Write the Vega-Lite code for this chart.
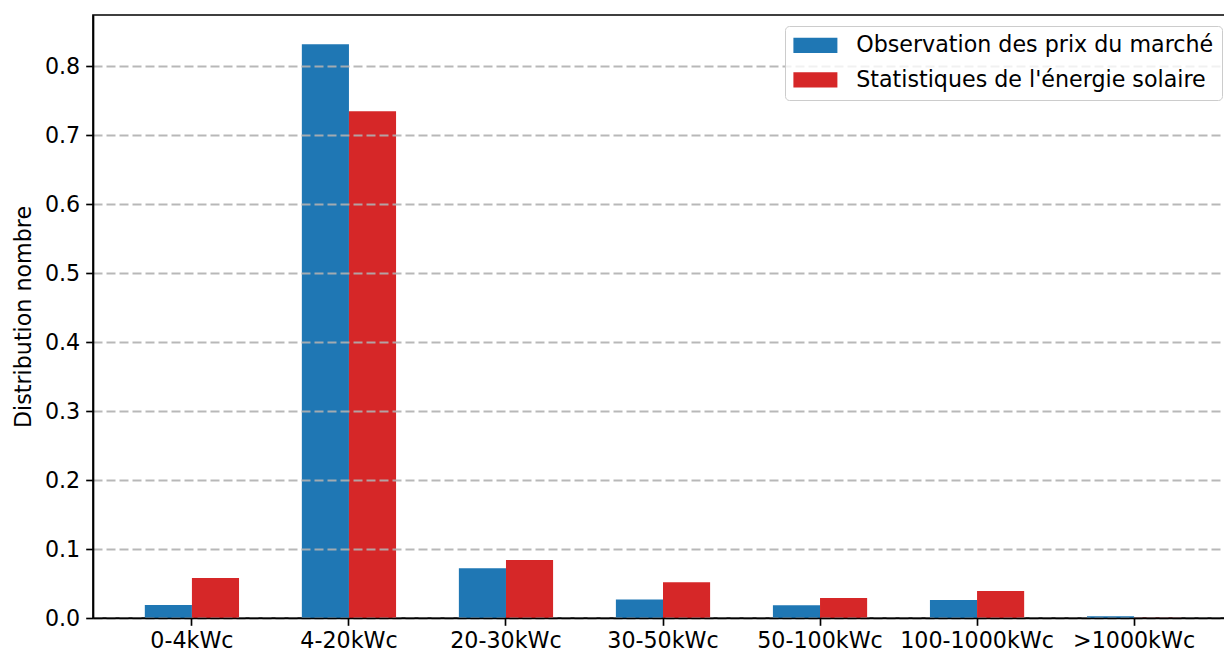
{
  "$schema": "https://vega.github.io/schema/vega-lite/v6.json",
  "width": 1140,
  "height": 603,
  "autosize": {"type": "none"},
  "padding": {"left": 93, "top": 15, "right": -9, "bottom": 35},
  "background": "white",
  "config": {
    "font": "DejaVu Sans",
    "view": {"stroke": "black", "strokeWidth": 1.67},
    "axis": {
      "domainColor": "black",
      "domainWidth": 1.67,
      "tickColor": "black",
      "tickWidth": 1.67,
      "tickSize": 7.3,
      "labelPadding": 6,
      "labelFont": "DejaVu Sans",
      "labelFontSize": 22.2,
      "labelColor": "black",
      "titleFont": "DejaVu Sans",
      "titleFontSize": 22.2,
      "titleFontWeight": "normal",
      "titleColor": "black"
    },
    "legend": {
      "labelFont": "DejaVu Sans",
      "labelFontSize": 22.2,
      "labelColor": "black"
    }
  },
  "data": {
    "values": [
      {"cat": "0-4kWc", "series": "Observation des prix du marché", "value": 0.019},
      {"cat": "0-4kWc", "series": "Statistiques de l'énergie solaire", "value": 0.058},
      {"cat": "4-20kWc", "series": "Observation des prix du marché", "value": 0.832},
      {"cat": "4-20kWc", "series": "Statistiques de l'énergie solaire", "value": 0.735},
      {"cat": "20-30kWc", "series": "Observation des prix du marché", "value": 0.072},
      {"cat": "20-30kWc", "series": "Statistiques de l'énergie solaire", "value": 0.084},
      {"cat": "30-50kWc", "series": "Observation des prix du marché", "value": 0.027},
      {"cat": "30-50kWc", "series": "Statistiques de l'énergie solaire", "value": 0.052},
      {"cat": "50-100kWc", "series": "Observation des prix du marché", "value": 0.0185},
      {"cat": "50-100kWc", "series": "Statistiques de l'énergie solaire", "value": 0.029},
      {"cat": "100-1000kWc", "series": "Observation des prix du marché", "value": 0.026},
      {"cat": "100-1000kWc", "series": "Statistiques de l'énergie solaire", "value": 0.039},
      {"cat": ">1000kWc", "series": "Observation des prix du marché", "value": 0.0025},
      {"cat": ">1000kWc", "series": "Statistiques de l'énergie solaire", "value": 0.0002}
    ]
  },
  "mark": {"type": "bar", "strokeWidth": 0},
  "encoding": {
    "x": {
      "field": "cat",
      "type": "nominal",
      "sort": null,
      "scale": {"paddingInner": 0.4, "paddingOuter": 0.33, "align": 0.5},
      "axis": {"title": null, "labelAngle": 0, "grid": false, "domain": true, "zindex": 2, "labelPadding": 4}
    },
    "xOffset": {
      "field": "series",
      "type": "nominal",
      "sort": null,
      "scale": {"paddingInner": 0, "paddingOuter": 0}
    },
    "y": {
      "field": "value",
      "type": "quantitative",
      "scale": {"domain": [0, 0.8744], "nice": false, "zero": true},
      "axis": {
        "title": "Distribution nombre",
        "values": [0, 0.1, 0.2, 0.3, 0.4, 0.5, 0.6, 0.7, 0.8],
        "format": ".1f",
        "grid": true,
        "gridDash": [9, 4],
        "gridColor": "#b0b0b0",
        "gridWidth": 2,
        "gridOpacity": 0.9,
        "titlePadding": 9,
        "zindex": 1
      }
    },
    "color": {
      "field": "series",
      "type": "nominal",
      "scale": {
        "domain": ["Observation des prix du marché", "Statistiques de l'énergie solaire"],
        "range": ["#1f77b4", "#d62728"]
      },
      "legend": {
        "title": null,
        "orient": "top-right",
        "offset": 11,
        "symbolType": "M-1,-0.7h4v1.4h-4Z",
        "symbolSize": 484,
        "symbolStrokeWidth": 0,
        "symbolOpacity": 1,
        "labelOffset": 40.7,
        "rowPadding": 11.5,
        "padding": 8.3,
        "strokeColor": "#cccccc",
        "fillColor": "rgba(255,255,255,0.8)",
        "cornerRadius": 4,
        "labelLimit": 600,
        "zindex": 2
      }
    }
  }
}
